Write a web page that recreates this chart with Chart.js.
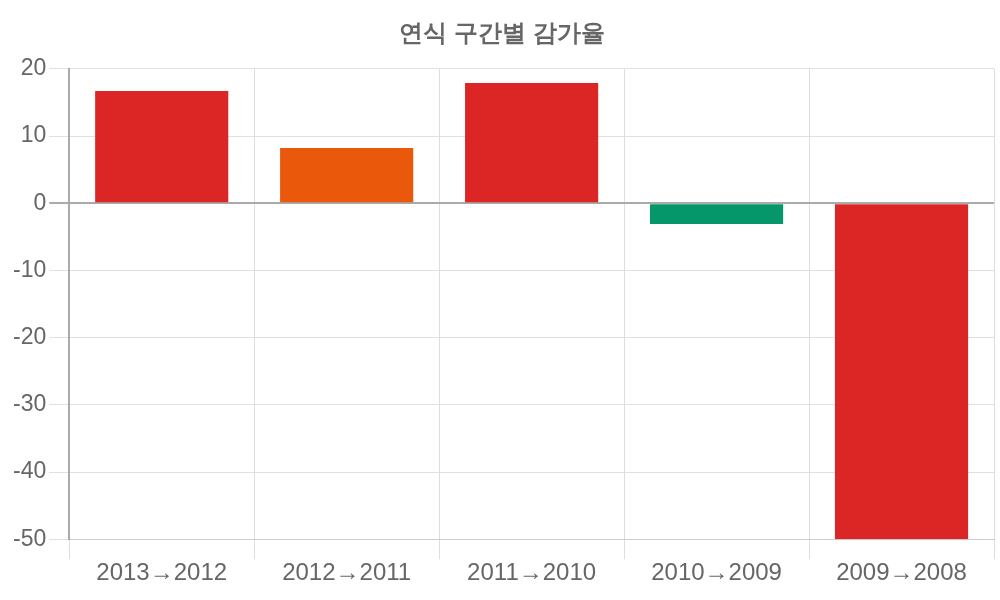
<!DOCTYPE html>
<html>
<head>
<meta charset="utf-8">
<script src="https://cdn.jsdelivr.net/npm/chart.js@4/dist/chart.umd.min.js"></script>
<style>
  html, body { margin: 0; padding: 0; background: #fff; }
  #wrap { width: 1000px; height: 600px; }
</style>
</head>
<body>
<div id="wrap"><canvas id="chart"></canvas></div>
<script>
// 연식 구간별 감가율 — 구간별 막대
const labels = ['2013→2012', '2012→2011', '2011→2010', '2010→2009', '2009→2008'];
const rates = [16.7, 8.2, 17.9, -3.1, -50];
const barColors = ['#DC2626', '#EA580C', '#DC2626', '#059669', '#DC2626'];

Chart.defaults.font.family = "'Liberation Sans', Arial, sans-serif";
Chart.defaults.color = '#666';

new Chart(document.getElementById('chart'), {
  type: 'bar',
  data: {
    labels,
    datasets: [{ data: rates, backgroundColor: barColors, borderWidth: 0 }],
  },
  options: {
    responsive: true, maintainAspectRatio: false, animation: false,
    layout: { padding: { left: 10, right: 6, top: 0, bottom: 12 } },
    scales: {
      x: {
        grid: { color: '#dedede', tickLength: 20 },
        border: { color: '#ccc' },
        ticks: { font: { size: 24 }, color: '#666', padding: 0 },
      },
      y: {
        min: -50, max: 20,
        ticks: { stepSize: 10, font: { size: 23 }, color: '#666', padding: 3 },
        grid: {
          tickLength: 20,
          color: c => c.tick.value === 0 ? '#aaa' : '#e0e0e0',
          lineWidth: c => c.tick.value === 0 ? 2 : 1,
        },
        border: { color: '#aaa', width: 2 },
      },
    },
    plugins: {
      legend: { display: false },
      title: {
        display: true, text: '연식 구간별 감가율',
        font: { size: 24, weight: 'bold' },
        color: '#666', padding: { top: 20, bottom: 20 },
      },
      tooltip: { enabled: false },
    },
  },
});
</script>
</body>
</html>
